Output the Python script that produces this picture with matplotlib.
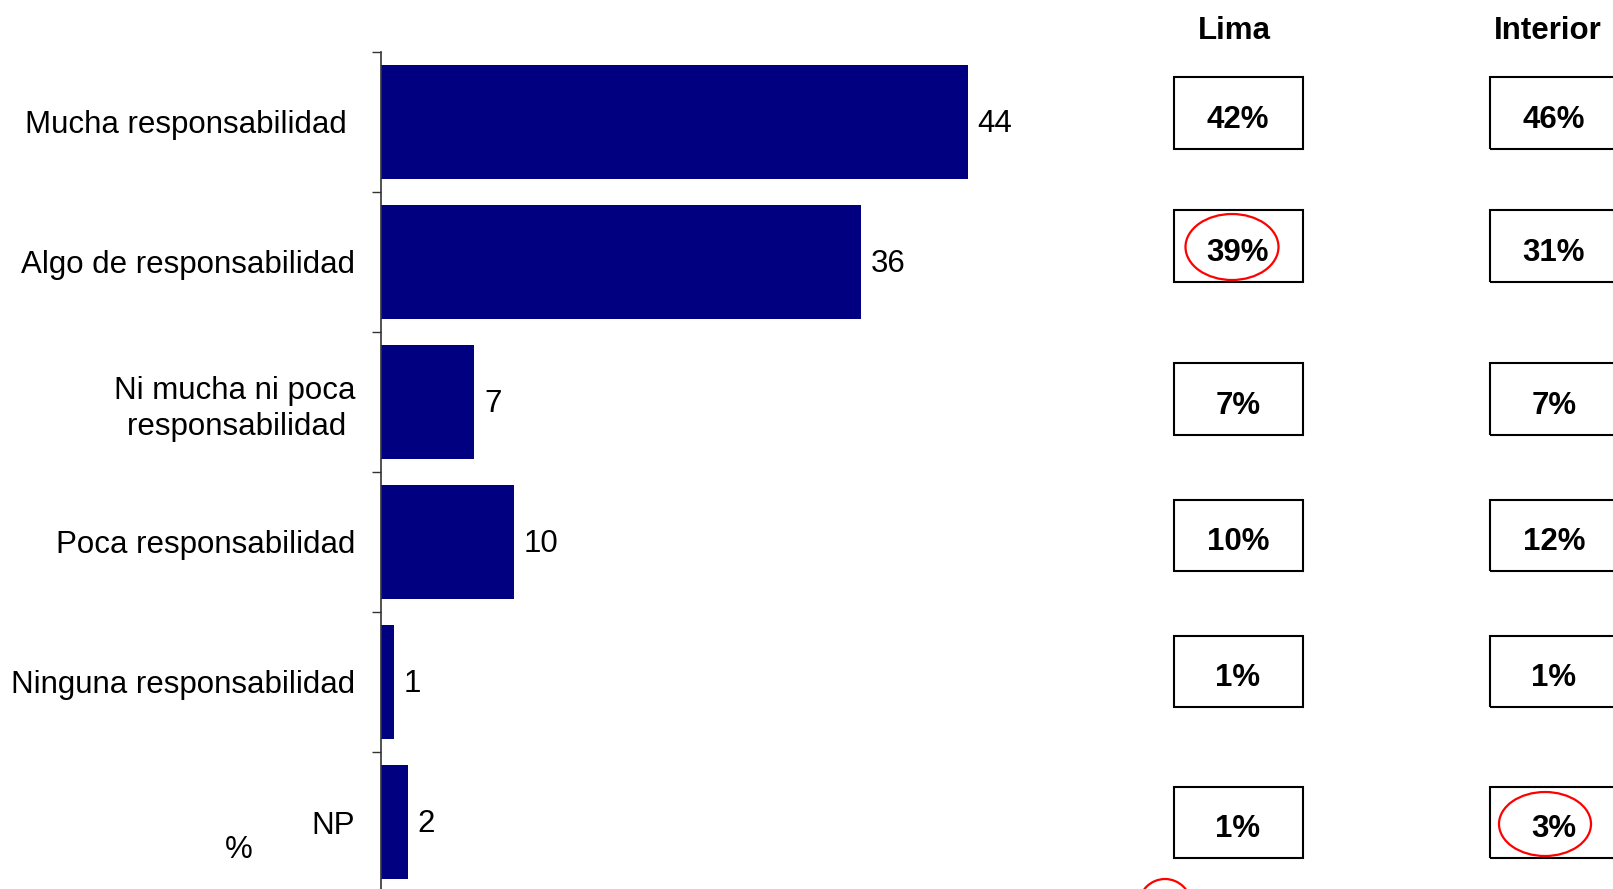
"""
Responsabilidad percibida - barras horizontales con comparacion Lima / Interior.
Output: out.png
"""

import matplotlib
matplotlib.use("Agg")
import matplotlib.pyplot as plt
from matplotlib.patches import Rectangle, Ellipse

# Data
categories = [
    "Mucha responsabilidad ",
    "Algo de responsabilidad",
    "Ni mucha ni poca\nresponsabilidad ",
    "Poca responsabilidad",
    "Ninguna responsabilidad",
    "NP",
]
total_values = [44, 36, 7, 10, 1, 2]
lima_values = [42, 39, 7, 10, 1, 1]
interior_values = [46, 31, 7, 12, 1, 3]
column_titles = ["Lima", "Interior"]

# Layout (figure pixels, measured from the top)
W, H = 1613, 889
row_centers = [113, 246, 399, 535, 671, 822]
col_centers = [1238, 1554]
title_x = [1234, 1548]
box_w, box_h = 129, 71
highlights = [(1232, 247, 93, 66), (1545, 824, 92, 64), (1165, 905, 52, 52)]

plt.rcParams["font.family"] = ["Liberation Sans", "DejaVu Sans"]
FS = 22.5
BAR_COLOR = "#000080"

fig = plt.figure(figsize=(W / 100, H / 100), dpi=100)
ax = fig.add_axes([381 / W, -3 / H, 720 / W, 840 / H])

y = list(range(len(categories)))
ax.barh(y, total_values, height=0.81, color=BAR_COLOR, zorder=2)
for yi, v in zip(y, total_values):
    ax.annotate(str(v), (v, yi), xytext=(7, -1.5), textcoords="offset points",
                va="center", ha="left", fontsize=FS)

ax.set_ylim(len(categories) - 0.5, -0.5)
ax.set_xlim(0, 720 / 13.33)
ax.set_yticks(y)
ax.set_yticklabels(categories, fontsize=FS, multialignment="right", linespacing=1.3)
ax.tick_params(axis="y", which="major", length=0, pad=18.7)
ax.set_yticks([i - 0.5 for i in range(len(categories) + 1)], minor=True)
ax.tick_params(axis="y", which="minor", length=6.5, width=1.0, color="#333333", direction="out")
ax.set_xticks([])
for side in ["top", "right", "bottom"]:
    ax.spines[side].set_visible(False)
ax.spines["left"].set_color("#333333")
ax.spines["left"].set_linewidth(1.2)

fig.text(239 / W, 1 - 850 / H, "%", fontsize=FS, ha="center", va="center")

# Lima / Interior boxes
for cx, tx, title, vals in zip(col_centers, title_x, column_titles, [lima_values, interior_values]):
    fig.text(tx / W, 1 - 31 / H, title, fontsize=FS, fontweight="bold",
             ha="center", va="center")
    for cy, v in zip(row_centers, vals):
        fig.add_artist(Rectangle(((cx - box_w / 2) / W, 1 - (cy + box_h / 2) / H),
                                 box_w / W, box_h / H, transform=fig.transFigure,
                                 fill=False, edgecolor="black", linewidth=1.5))
        fig.text(cx / W, 1 - (cy + 7) / H, f"{v}%", fontsize=FS, fontweight="bold",
                 ha="center", va="center")

# red highlight circles
for ex, ey, ew, eh in highlights:
    fig.add_artist(Ellipse((ex / W, 1 - ey / H), ew / W, eh / H, transform=fig.transFigure,
                           fill=False, edgecolor="red", linewidth=1.6))

fig.savefig("out.png", dpi=100)
